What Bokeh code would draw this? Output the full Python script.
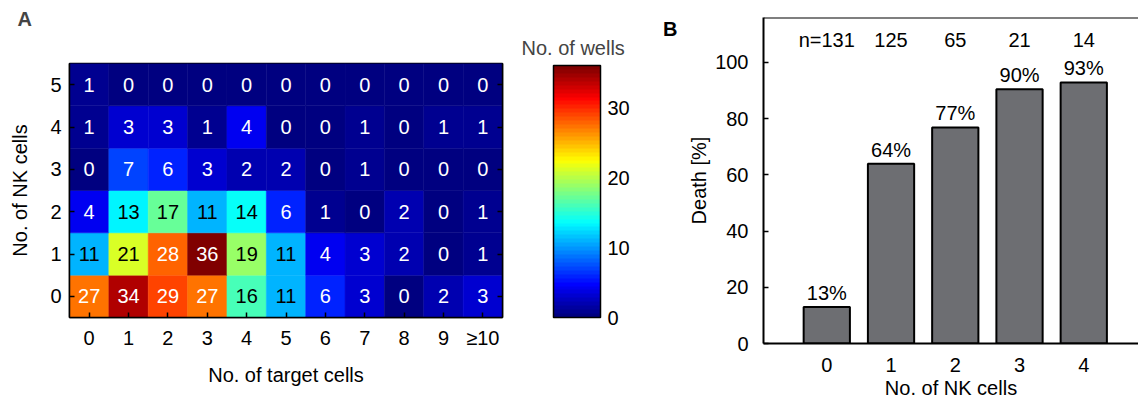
from bokeh.plotting import figure
from bokeh.models import (ColumnDataSource, LinearColorMapper, ColorBar, Title,
                          LinearAxis, FixedTicker, Span, Range1d)
from bokeh.layouts import row, column
from bokeh.embed import file_html
from bokeh.resources import INLINE
from bokeh.core.properties import value

FONT = "Liberation Sans"

# ---------------- data ----------------
target_labels = ["0", "1", "2", "3", "4", "5", "6", "7", "8", "9", "≥10"]
nk_labels = ["0", "1", "2", "3", "4", "5"]
wells_nk0 = [27, 34, 29, 27, 16, 11, 6, 3, 0, 2, 3]
wells_nk1 = [11, 21, 28, 36, 19, 11, 4, 3, 2, 0, 1]
wells_nk2 = [4, 13, 17, 11, 14, 6, 1, 0, 2, 0, 1]
wells_nk3 = [0, 7, 6, 3, 2, 2, 0, 1, 0, 0, 0]
wells_nk4 = [1, 3, 3, 1, 4, 0, 0, 1, 0, 1, 1]
wells_nk5 = [1, 0, 0, 0, 0, 0, 0, 0, 0, 0, 0]
colorbar_ticks = [0, 10, 20, 30]

nk_cells = [0, 1, 2, 3, 4]
death_pct = [13.0, 64.0, 76.9, 90.5, 92.9]
death_labels = ["13%", "64%", "77%", "90%", "93%"]
n_labels = ["n=131", "125", "65", "21", "14"]
death_ticks = [0, 20, 40, 60, 80, 100]


# ---------------- jet colormap ----------------
def jet(n=64):
    cols = []
    for i in range(n):
        x = i / (n - 1)
        def c(v):
            return int(round(255 * min(max(v, 0.0), 1.0)))
        r = c(1.5 - abs(4 * x - 3))
        g = c(1.5 - abs(4 * x - 2))
        b = c(1.5 - abs(4 * x - 1))
        cols.append("#%02x%02x%02x" % (r, g, b))
    return cols


mapper = LinearColorMapper(palette=jet(64), low=0, high=36)

# ---------------- panel A: heatmap ----------------
rows = [wells_nk0, wells_nk1, wells_nk2, wells_nk3, wells_nk4, wells_nk5]
xs, ys, vs, ts, tcs = [], [], [], [], []
for r, rv in enumerate(rows):
    for c, v in enumerate(rv):
        xs.append(c)
        ys.append(r)
        vs.append(v)
        ts.append(str(v))
        tcs.append("black" if 10 <= v <= 24 else "white")
src = ColumnDataSource(dict(x=xs, y=ys, v=vs, t=ts, tc=tcs))

pA = figure(width=655, height=403, x_range=Range1d(-0.5, 10.5), y_range=Range1d(-0.5, 5.5),
            output_backend="svg", toolbar_location=None,
            min_border_left=69, min_border_right=153, min_border_top=63, min_border_bottom=86,
            outline_line_color="black", outline_line_width=1.5)
pA.rect(x="x", y="y", width=1, height=1, source=src,
        fill_color={"field": "v", "transform": mapper},
        line_color={"field": "v", "transform": mapper}, line_width=0.5)
pA.text(x="x", y="y", text="t", source=src, text_color="tc", text_align="center",
        text_baseline="middle", text_font=value(FONT), text_font_size="20px")
pA.grid.visible = False

pA.xaxis.ticker = FixedTicker(ticks=list(range(len(target_labels))))
pA.xaxis.major_label_overrides = {i: s for i, s in enumerate(target_labels)}
pA.yaxis.ticker = FixedTicker(ticks=list(range(len(nk_labels))))
pA.yaxis.major_label_overrides = {i: s for i, s in enumerate(nk_labels)}
pA.xaxis.axis_label = "No. of target cells"
pA.yaxis.axis_label = "No. of NK cells"
for ax in (pA.xaxis[0], pA.yaxis[0]):
    ax.major_tick_in = 5
    ax.major_tick_out = 0
    ax.minor_tick_line_color = None
    ax.axis_line_width = 1.5
    ax.major_tick_line_width = 1.5
    ax.major_label_text_font = FONT
    ax.major_label_text_font_size = "20px"
    ax.major_label_text_color = "black"
    ax.axis_label_text_font = FONT
    ax.axis_label_text_font_size = "20px"
    ax.axis_label_text_font_style = "normal"
    ax.axis_label_text_color = "black"
pA.xaxis.major_label_standoff = 9
pA.xaxis.axis_label_standoff = 12
pA.yaxis.major_label_standoff = 8
pA.yaxis.axis_label_standoff = 16

rax = LinearAxis(ticker=FixedTicker(ticks=list(range(len(nk_labels)))),
                 major_label_overrides={i: "" for i in range(len(nk_labels))},
                 major_tick_in=5, major_tick_out=0,
                 minor_tick_line_color=None, axis_line_width=1.5, major_tick_line_width=1.5,
                 major_label_standoff=0)
pA.add_layout(rax, "right")

# panel letter (outermost title) and colour-bar title (inner title)
pA.title.text = "A"
pA.title.align = "left"
pA.title.offset = -52
pA.title.text_font = FONT
pA.title.text_font_size = "20px"
pA.title.text_font_style = "bold"
pA.title.standoff = 0
pA.add_layout(Title(text="No. of wells", align="left", offset=452, text_font=FONT,
                    text_font_size="20px", text_font_style="normal", standoff=10), "above")

cb = ColorBar(color_mapper=mapper, location=(484, 0), width=47, height=252, padding=0, margin=0,
              ticker=FixedTicker(ticks=colorbar_ticks), major_label_text_font=FONT,
              major_label_text_font_size="20px", major_label_text_color="black",
              major_tick_line_color=None, minor_tick_line_color=None,
              bar_line_color="black", bar_line_width=1.5, border_line_color=None,
              background_fill_color=None, label_standoff=7)
pA.add_layout(cb, "center")

# ---------------- panel B: bar chart ----------------
bsrc = ColumnDataSource(dict(x=nk_cells, top=death_pct, lab=death_labels, n=n_labels,
                             ny=[108] * len(nk_cells)))

pB = figure(width=483, height=403, x_range=Range1d(-0.985, 4.852), y_range=Range1d(0, 116),
            output_backend="svg", toolbar_location=None,
            min_border_left=108, min_border_right=0, min_border_top=17, min_border_bottom=60,
            outline_line_color=None)
pB.vbar(x="x", top="top", bottom=0, width=0.72, source=bsrc, fill_color="#6d6e72",
        line_color="black", line_width=2)
pB.text(x="x", y="top", text="lab", source=bsrc, text_align="center", text_baseline="bottom",
        y_offset=-3, text_font=value(FONT), text_font_size="20px", text_color="black")
pB.text(x="x", y="ny", text="n", source=bsrc, text_align="center", text_baseline="middle",
        text_font=value(FONT), text_font_size="20px", text_color="black")
pB.add_layout(Span(location=116, dimension="width", line_color="black", line_width=2))
pB.grid.visible = False

pB.xaxis.ticker = FixedTicker(ticks=nk_cells)
pB.yaxis.ticker = FixedTicker(ticks=death_ticks)
pB.xaxis.axis_label = "No. of NK cells"
pB.yaxis.axis_label = "Death [%]"
for ax in (pB.xaxis[0], pB.yaxis[0]):
    ax.major_tick_out = 0
    ax.minor_tick_line_color = None
    ax.axis_line_width = 2
    ax.major_tick_line_width = 1.5
    ax.major_label_text_font = FONT
    ax.major_label_text_font_size = "20px"
    ax.major_label_text_color = "black"
    ax.axis_label_text_font = FONT
    ax.axis_label_text_font_size = "20px"
    ax.axis_label_text_font_style = "normal"
    ax.axis_label_text_color = "black"
pB.xaxis.major_tick_in = 0
pB.yaxis.major_tick_in = 5
pB.xaxis.major_label_standoff = 14
pB.xaxis.axis_label_standoff = 2
pB.yaxis.major_label_standoff = 15
pB.yaxis.axis_label_standoff = 2

# panel letter B, carried by an outer left axis with a single labelled tick
letter_axis = LinearAxis(ticker=FixedTicker(ticks=[112]), major_label_overrides={112: "B"},
                         axis_line_color=None, major_tick_line_color=None,
                         minor_tick_line_color=None, major_label_standoff=2,
                         major_label_text_font=FONT, major_label_text_font_size="20px",
                         major_label_text_font_style="bold", major_label_text_color="black")
pB.add_layout(letter_axis, "left")

layout = row(column(pA), column(pB))
open("out.html", "w").write(file_html(layout, INLINE))
